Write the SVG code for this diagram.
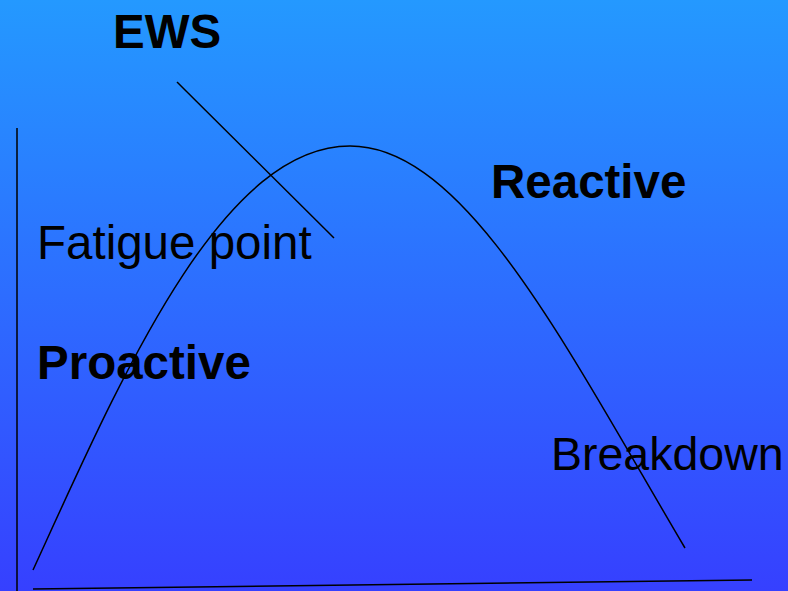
<svg xmlns="http://www.w3.org/2000/svg" width="788" height="591" viewBox="0 0 788 591">
<defs>
<linearGradient id="bg" x1="0" y1="0" x2="0" y2="1">
<stop offset="0" stop-color="#2499FF"/>
<stop offset="1" stop-color="#3640FF"/>
</linearGradient>
<style>
.t{font-family:"Liberation Sans",Arial,sans-serif;font-size:47.5px;fill:#000}
.b{font-weight:bold}
.l{fill:none;stroke:#000;stroke-width:1.5}
</style>
</defs>
<rect width="788" height="591" fill="url(#bg)"/>
<g id="connectors">
<path class="l" d="M17,128 L17,591"/>
<path class="l" d="M33,589 L752,580"/>
<path class="l" d="M33,570 C120,380 220,146 350,146 C465,146 565,345 685,548"/>
<path class="l" d="M177,82 L334,238"/>
</g>
<g id="ews"><text class="t b" x="113" y="48">EWS</text></g>
<g id="reactive"><text class="t b" x="491" y="198">Reactive</text></g>
<g id="fatigue"><text class="t" x="37" y="259">Fatigue point</text></g>
<g id="proactive"><text class="t b" x="37" y="379">Proactive</text></g>
<g id="breakdown"><text class="t" x="551" y="470" style="font-size:46.5px">Breakdown</text></g>
</svg>
